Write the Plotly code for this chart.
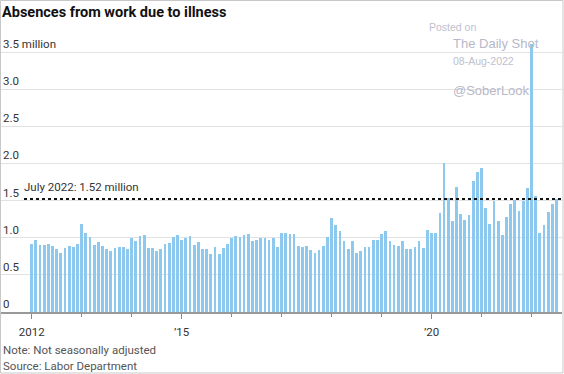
import plotly.graph_objects as go

# Monthly absences from work due to illness, Jan 2012 - Jul 2022 (millions)
months_2012 = [0.92, 0.97, 0.90, 0.90, 0.92, 0.89, 0.85, 0.80, 0.86, 0.89, 0.87, 0.92]
months_2013 = [1.19, 1.07, 1.01, 0.90, 0.94, 0.89, 0.85, 0.82, 0.86, 0.87, 0.87, 0.85]
months_2014 = [1.00, 0.96, 1.02, 1.04, 0.86, 0.86, 0.82, 0.85, 0.91, 0.93, 1.01, 1.04]
months_2015 = [0.97, 0.99, 1.02, 0.90, 0.94, 0.85, 0.85, 0.78, 0.87, 0.78, 0.86, 0.91]
months_2016 = [0.99, 1.02, 1.01, 1.04, 1.05, 0.96, 0.97, 0.99, 0.99, 0.97, 1.00, 0.87]
months_2017 = [1.06, 1.06, 1.045, 1.045, 0.89, 0.87, 0.89, 0.84, 0.79, 0.84, 0.89, 1.01]
months_2018 = [1.27, 1.17, 1.085, 0.96, 0.85, 0.96, 0.79, 0.82, 0.87, 0.87, 0.97, 0.97]
months_2019 = [1.045, 1.095, 0.96, 0.90, 0.89, 0.95, 0.85, 0.85, 0.87, 0.96, 0.86, 1.10]
months_2020 = [1.06, 1.07, 1.33, 2.00, 1.53, 1.22, 1.68, 1.32, 1.24, 1.30, 1.77, 1.89]
months_2021 = [1.94, 1.40, 1.19, 1.50, 1.23, 1.04, 1.28, 1.46, 1.51, 1.365, 1.50, 1.67]
months_2022 = [3.61, 1.56, 1.07, 1.17, 1.34, 1.46, 1.52]

values = (months_2012 + months_2013 + months_2014 + months_2015 + months_2016 +
          months_2017 + months_2018 + months_2019 + months_2020 + months_2021 + months_2022)
month_index = list(range(len(values)))

x_tick_vals = [0, 36, 96]
x_tick_text = ["2012", "’15", "’20"]
y_tick_vals = [0, 0.5, 1.0, 1.5, 2.0, 2.5, 3.0, 3.5]
y_tick_text = ["0", "0.5", "1.0", "1.5", "2.0", "2.5", "3.0", "3.5 million"]
latest_value = 1.52
latest_label = "July 2022: 1.52 million"

FONT = "Roboto, Arial, sans-serif"
W, H = 564, 374
L, R, T, B = 0, 2, 30, 62
PW, PH = W - L - R, H - T - B
px_per_month = 4.165
first_bar_px = 31.7
x0 = -first_bar_px / px_per_month
x1 = x0 + PW / px_per_month
ymax = PH / (260 / 3.5)

fig = go.Figure()
fig.add_trace(go.Bar(x=month_index, y=values, marker_color="#8dc8ef",
                     marker_line_width=0, width=0.66, hoverinfo="skip"))

fig.add_shape(type="line", xref="x", yref="y", x0=(24 - first_bar_px) / px_per_month, x1=x1,
              y0=latest_value, y1=latest_value,
              line=dict(color="#111111", width=2, dash="dot"))
fig.add_annotation(x=(24 - first_bar_px) / px_per_month, y=latest_value, xref="x", yref="y",
                   text=latest_label, showarrow=False, xanchor="left", yanchor="bottom",
                   xshift=-2, yshift=3, font=dict(family=FONT, size=11.5, color="#333333"))

# frame
fig.add_shape(type="rect", xref="paper", yref="paper",
              x0=0.5 / PW, x1=(W - 1 - L) / PW, y0=-(B - 1) / PH, y1=1 + (T - 0.5) / PH,
              line=dict(color="#c8c8c8", width=1), layer="above")

def ppx(px):
    return (px - L) / PW

def ppy(py):
    return (H - B - py) / PH

fig.add_annotation(x=ppx(1), y=ppy(350), xref="paper", yref="paper", text="Note: Not seasonally adjusted",
                   showarrow=False, xanchor="left", yanchor="middle",
                   font=dict(family=FONT, size=11.5, color="#555555"))
fig.add_annotation(x=ppx(1), y=ppy(366), xref="paper", yref="paper", text="Source: Labor Department",
                   showarrow=False, xanchor="left", yanchor="middle",
                   font=dict(family=FONT, size=11.5, color="#555555"))

wm = "Liberation Sans, Arial, sans-serif"
fig.add_annotation(x=ppx(427), y=ppy(27), xref="paper", yref="paper", text="Posted on",
                   showarrow=False, xanchor="left", yanchor="middle",
                   font=dict(family=wm, size=10.5, color="#c0c0cf"))
fig.add_annotation(x=ppx(451), y=ppy(43), xref="paper", yref="paper", text="The Daily Shot",
                   showarrow=False, xanchor="left", yanchor="middle",
                   font=dict(family=wm, size=13, color="#b8b8c8"))
fig.add_annotation(x=ppx(451), y=ppy(61), xref="paper", yref="paper", text="08-Aug-2022",
                   showarrow=False, xanchor="left", yanchor="middle",
                   font=dict(family=wm, size=10.5, color="#c0c0cf"))
fig.add_annotation(x=ppx(451), y=ppy(90), xref="paper", yref="paper", text="@SoberLook",
                   showarrow=False, xanchor="left", yanchor="middle",
                   font=dict(family=wm, size=13, color="#b8b8c8"))

fig.update_layout(
    width=W, height=H,
    margin=dict(l=L, r=R, t=T, b=B, autoexpand=False),
    paper_bgcolor="white", plot_bgcolor="white",
    showlegend=False, bargap=0,
    title=dict(text="<b>Absences from work due to illness</b>", x=2 / W, xanchor="left",
               xref="container", yref="container", pad=dict(l=0, r=0, t=0, b=0),
               y=1 - 12 / H, yanchor="middle",
               font=dict(family=FONT, size=14.5, color="#111111")),
    xaxis=dict(range=[x0, x1], tickmode="array", tickvals=x_tick_vals, ticktext=x_tick_text,
               automargin=False, ticklabeloverflow="allow",
               showgrid=False, zeroline=False, showline=True, linecolor="#999999", linewidth=2,
               ticks="outside", ticklen=5, tickcolor="#888888", tickwidth=1,
               ticklabelstandoff=3,
               tickfont=dict(family=FONT, size=11.5, color="#333333"),
               minor=dict(tickmode="linear", tick0=0, dtick=12, ticks="outside", ticklen=3,
                          tickcolor="#888888", showgrid=False)),
    yaxis=dict(range=[0, ymax], tickmode="array", tickvals=y_tick_vals, ticktext=y_tick_text,
               automargin=False, ticklabeloverflow="allow",
               showgrid=True, gridcolor="#e2e2e2", gridwidth=1, zeroline=False,
               ticks="", ticklabelposition="inside top",
               tickfont=dict(family=FONT, size=11.5, color="#333333")),
)

fig.write_html("out.html", config={"displayModeBar": False},
               post_script="document.body.style.margin='0';document.body.style.overflow='hidden';")
